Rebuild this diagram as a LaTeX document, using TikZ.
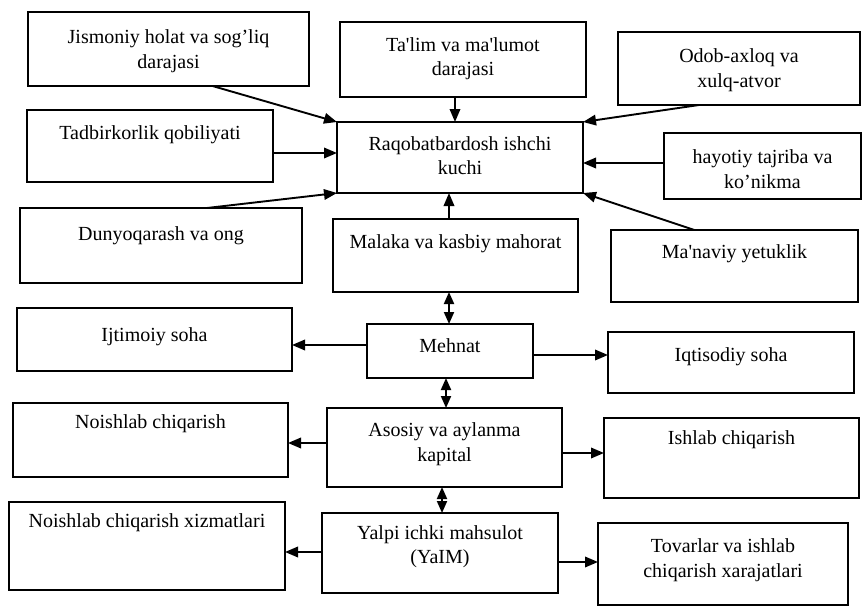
\documentclass[tikz,border=0pt]{standalone}
\usepackage{fontspec}
\setmainfont{Liberation Serif}
\usetikzlibrary{arrows.meta,calc}
\begin{document}
\begin{tikzpicture}[x=1pt,y=-1pt,
  box/.style={draw, line width=1.2pt, inner sep=0pt, outer sep=0pt},
  txt/.style={font=\fontsize{20}{24.5}\selectfont, align=center, inner sep=0pt},
  arr/.style={line width=1.9pt, -{Triangle[length=13pt,width=10.5pt]}},
  darr/.style={line width=1.9pt, {Triangle[length=12pt,width=10pt]}-{Triangle[length=12pt,width=10pt]}}]
\useasboundingbox (0,0) rectangle (863,608);
% boxes
\node[box, minimum width=281pt, minimum height=74pt] (jis) at (168.5,49) {};
\node[box, minimum width=246pt, minimum height=75pt] (tal) at (463,59.5) {};
\node[box, minimum width=242pt, minimum height=73pt] (odob) at (739,68.5) {};
\node[box, minimum width=246pt, minimum height=72pt] (tad) at (150,146) {};
\node[box, minimum width=246pt, minimum height=71pt] (raq) at (460,157.5) {};
\node[box, minimum width=197pt, minimum height=66pt] (hay) at (762.5,166) {};
\node[box, minimum width=282pt, minimum height=75pt] (dun) at (161,245.5) {};
\node[box, minimum width=245pt, minimum height=73pt] (mal) at (455.5,255.5) {};
\node[box, minimum width=247pt, minimum height=72pt] (man) at (734.5,266) {};
\node[box, minimum width=275pt, minimum height=63pt] (ijt) at (154.5,339.5) {};
\node[box, minimum width=166pt, minimum height=54pt] (meh) at (450,351) {};
\node[box, minimum width=246pt, minimum height=61pt] (iqt) at (731,362.5) {};
\node[box, minimum width=275pt, minimum height=74pt] (noi) at (150.5,440) {};
\node[box, minimum width=235pt, minimum height=79pt] (aso) at (444.5,447.5) {};
\node[box, minimum width=255pt, minimum height=80pt] (ish) at (731.5,458) {};
\node[box, minimum width=276pt, minimum height=88pt] (xiz) at (147,546) {};
\node[box, minimum width=236pt, minimum height=80pt] (yal) at (440,553) {};
\node[box, minimum width=250pt, minimum height=82pt] (tov) at (723,564) {};
% texts
\node[txt] (jisT) at ([yshift=-2pt]jis.center) {Jismoniy holat va sog’liq\\darajasi};
\node[txt] (talT) at ([yshift=1pt]tal.center) {Ta\textquotesingle lim va ma\textquotesingle lumot\\darajasi};
\node[txt] (odobT) at ([yshift=-1.5pt]odob.center) {Odob-axloq va\\xulq-atvor};
\node[txt] (tadT) at ([yshift=11pt]tad.center) {Tadbirkorlik qobiliyati};
\node[txt] (raqT) at ([yshift=2pt]raq.center) {Raqobatbardosh ishchi\\kuchi};
\node[txt] (hayT) at ([yshift=-3pt]hay.center) {hayotiy tajriba va\\ko’nikma};
\node[txt] (dunT) at ([yshift=9.5pt]dun.center) {Dunyoqarash va ong};
\node[txt] (malT) at ([yshift=11.5pt]mal.center) {Malaka va kasbiy mahorat};
\node[txt] (manT) at ([yshift=12pt]man.center) {Ma\textquotesingle naviy yetuklik};
\node[txt] (ijtT) at ([yshift=2.5pt]ijt.center) {Ijtimoiy soha};
\node[txt] (mehT) at ([yshift=5pt]meh.center) {Mehnat};
\node[txt] (iqtT) at ([yshift=5.5pt]iqt.center) {Iqtisodiy soha};
\node[txt] (noiT) at ([yshift=16pt]noi.center) {Noishlab chiqarish};
\node[txt] (asoT) at ([yshift=3.5pt]aso.center) {Asosiy va aylanma\\kapital};
\node[txt] (ishT) at ([yshift=18pt]ish.center) {Ishlab chiqarish};
\node[txt] (xizT) at ([yshift=23pt]xiz.center) {Noishlab chiqarish xizmatlari};
\node[txt] (yalT) at ([yshift=6.5pt]yal.center) {Yalpi ichki mahsulot\\(YaIM)};
\node[txt] (tovT) at ([yshift=4pt]tov.center) {Tovarlar va ishlab\\chiqarish xarajatlari};
% helper coordinates
\coordinate (cTal) at (455,0);
\coordinate (cMal) at (449,0);
\coordinate (cMeh) at (446,0);
\coordinate (cAso) at (442,0);
% arrows into Raqobatbardosh
\draw[arr] ([xshift=44pt]jis.south) -- (raq.north west);
\draw[arr] (cTal |- tal.south) -- (cTal |- raq.north);
\draw[arr] ([xshift=-40pt]odob.south) -- (raq.north east);
\draw[arr] (tad.east |- 0,153) -- (raq.west |- 0,153);
\draw[arr] (hay.west |- 0,163) -- (raq.east |- 0,163);
\draw[arr] ([xshift=46pt]dun.north) -- (raq.south west);
\draw[arr] ([xshift=-40pt]man.north) -- (raq.south east);
\draw[arr] (cMal |- mal.north) -- (cMal |- raq.south);
% vertical chain
\draw[darr] (cMal |- mal.south) -- (cMal |- meh.north);
\draw[darr] (cMeh |- meh.south) -- (cMeh |- aso.north);
\draw[darr] (cAso |- aso.south) -- (cAso |- yal.north);
% side arrows
\draw[arr] (meh.west |- 0,345) -- (ijt.east |- 0,345);
\draw[arr] (meh.east |- 0,355) -- (iqt.west |- 0,355);
\draw[arr] (aso.west |- 0,443) -- (noi.east |- 0,443);
\draw[arr] (aso.east |- 0,453) -- (ish.west |- 0,453);
\draw[arr] (yal.west |- 0,552) -- (xiz.east |- 0,552);
\draw[arr] (yal.east |- 0,562) -- (tov.west |- 0,562);
\end{tikzpicture}
\end{document}
